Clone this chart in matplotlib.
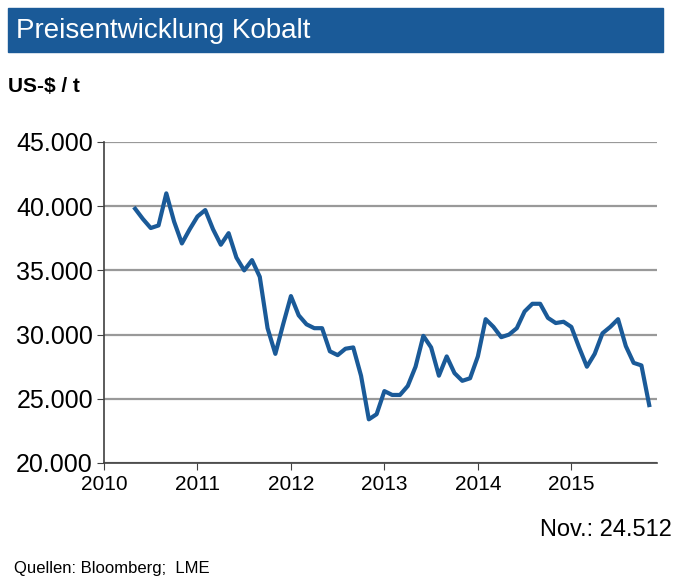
import matplotlib
matplotlib.use("Agg")
import matplotlib.pyplot as plt
from matplotlib.patches import Rectangle

plt.rcParams["font.family"] = "Liberation Sans"

start_year = 2010
start_month = 5
prices = [39.8, 39.0, 38.3, 38.5, 41.0, 38.8, 37.1, 38.2,
          39.2, 39.7, 38.2, 37.0, 37.9, 36.0, 35.0, 35.8, 34.5, 30.5, 28.5, 30.8,
          33.0, 31.5, 30.8, 30.5, 30.5, 28.7, 28.4, 28.9, 29.0, 26.8, 23.4, 23.8,
          25.6, 25.3, 25.3, 26.0, 27.5, 29.9, 29.0, 26.8, 28.3, 27.0, 26.4, 26.6,
          28.3, 31.2, 30.6, 29.8, 30.0, 30.5, 31.8, 32.4, 32.4, 31.3, 30.9, 31.0,
          30.6, 29.0, 27.5, 28.5, 30.1, 30.6, 31.2, 29.1, 27.8, 27.6, 24.512]
yticks = [20000, 25000, 30000, 35000, 40000, 45000]
xyears = [2010, 2011, 2012, 2013, 2014, 2015]

x = [start_year + (start_month - 1 + i) / 12 for i in range(len(prices))]
y = [p * 1000 for p in prices]

fig = plt.figure(figsize=(6.84, 5.84), dpi=100)
fig.patches.append(Rectangle((8/684, 1-52/584), 655/684, 44/584, transform=fig.transFigure,
                             color="#1a5a98", zorder=0))
fig.text(16/684, 1-31/584, "Preisentwicklung Kobalt", color="white", fontsize=20, va="center")
fig.text(8/684, 1-86/584, "US-$ / t", fontsize=15, fontweight="bold", va="center")
fig.text(14/684, 1-569/584, "Quellen: Bloomberg;  LME", fontsize=12, va="center")
fig.text(672/684, 1-530/584, "Nov.: 24.512", fontsize=17, va="center", ha="right")

ax = fig.add_axes([104/684, 1-463/584, 553/684, 321/584])
ax.plot(x, y, color="#1a5a98", lw=3)
ax.set_xlim(2010, 2015 + 11/12)
ax.set_ylim(20000, 45000)
ax.set_yticks(yticks)
ax.set_yticklabels([f"{v:,}".replace(",", ".") for v in yticks], fontsize=18)
ax.set_xticks(xyears)
ax.set_xticklabels([str(v) for v in xyears], fontsize=15)
ax.yaxis.grid(True, color="#999999", lw=1.6)
ax.set_axisbelow(True)
for s in ["top", "right"]:
    ax.spines[s].set_visible(False)
for s in ["left", "bottom"]:
    ax.spines[s].set_color("#404040")
    ax.spines[s].set_linewidth(1.2)
ax.tick_params(axis="both", direction="out", length=5, color="#404040")
ax.tick_params(axis="y", pad=3)
fig.savefig("out.png", dpi=100)
